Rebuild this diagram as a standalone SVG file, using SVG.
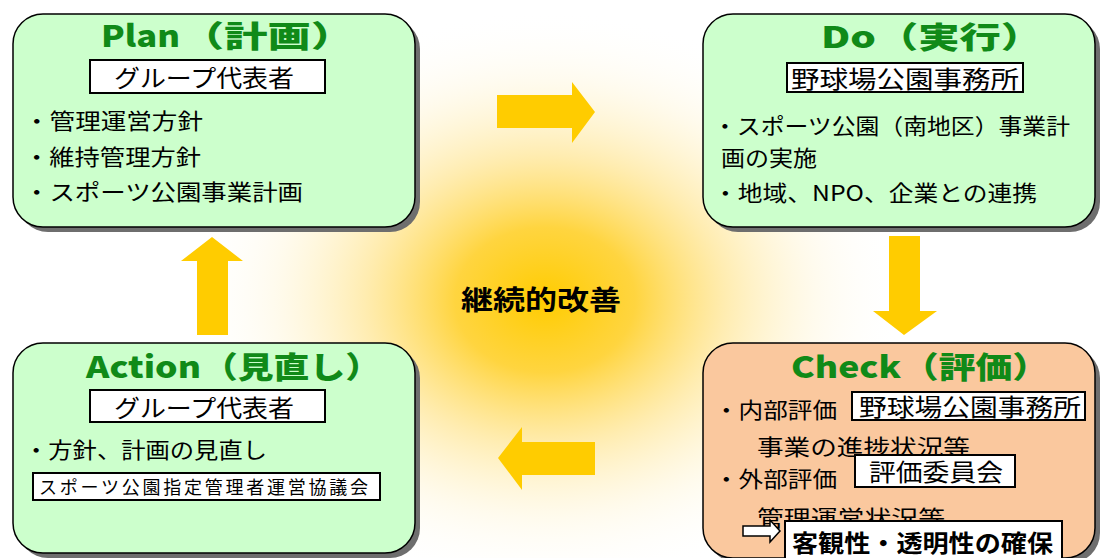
<svg xmlns="http://www.w3.org/2000/svg" width="1100" height="558" viewBox="0 0 1100 558">
<style>
.shadow{fill:#6e6e6e}
.green{fill:#CCFFCC;stroke:#000;stroke-width:1.5}
.peach{fill:#FAC89E;stroke:#000;stroke-width:1.5}
.title{font-family:"Noto Sans CJK JP","Noto Sans",sans-serif;font-weight:900;fill:#108A18;font-size:30px}
.body{font-family:"Noto Sans CJK JP",sans-serif;font-size:22px;fill:#000}
.lbl{fill:#fff;stroke:#000;stroke-width:2}
.lbltxt{font-family:"Noto Sans CJK JP",sans-serif;font-size:24px;fill:#000}
.arrow{fill:#FFCC00}
</style>
<defs>
<radialGradient id="glow" cx="0.5" cy="0.5" r="0.5">
<stop offset="0" stop-color="#FFCC00" stop-opacity="1"/>
<stop offset="0.25" stop-color="#FFD02A" stop-opacity="0.9"/>
<stop offset="0.5" stop-color="#FFDD70" stop-opacity="0.55"/>
<stop offset="0.75" stop-color="#FFEEB8" stop-opacity="0.25"/>
<stop offset="1" stop-color="#FFFFFF" stop-opacity="0"/>
</radialGradient>
</defs>
<rect width="1100" height="558" fill="#fff"/>
<ellipse id="glow-bg" cx="545" cy="300" rx="360" ry="290" fill="url(#glow)"/>

<g id="plan">
<rect class="shadow" x="18" y="19" width="402" height="213" rx="30"/>
<rect class="green" x="13" y="14" width="402" height="213" rx="30"/>
<text class="title" y="47"><tspan x="101" textLength="79" lengthAdjust="spacingAndGlyphs">Plan</tspan><tspan x="181" textLength="173" lengthAdjust="spacingAndGlyphs">（計画）</tspan></text>
<rect class="lbl" x="90" y="60" width="235" height="33"/>
<text class="lbltxt" x="114" y="87" textLength="180" lengthAdjust="spacingAndGlyphs">グループ代表者</text>
<text class="body" x="24" y="129" textLength="179" lengthAdjust="spacingAndGlyphs">・管理運営方針</text>
<text class="body" x="24" y="165" textLength="177" lengthAdjust="spacingAndGlyphs">・維持管理方針</text>
<text class="body" x="24" y="200" textLength="279" lengthAdjust="spacingAndGlyphs">・スポーツ公園事業計画</text>
</g>

<g id="do">
<rect class="shadow" x="708" y="19" width="392" height="213" rx="30"/>
<rect class="green" x="703" y="14" width="392" height="213" rx="30"/>
<text class="title" y="48"><tspan x="821" textLength="55" lengthAdjust="spacingAndGlyphs">Do</tspan><tspan x="877" textLength="165" lengthAdjust="spacingAndGlyphs">（実行）</tspan></text>
<rect class="lbl" x="787" y="63" width="236" height="29"/>
<text class="lbltxt" x="791" y="88" textLength="228" lengthAdjust="spacingAndGlyphs">野球場公園事務所</text>
<text class="body" x="713" y="134" textLength="357" lengthAdjust="spacingAndGlyphs">・スポーツ公園（南地区）事業計</text>
<text class="body" x="721" y="166" textLength="96" lengthAdjust="spacingAndGlyphs">画の実施</text>
<text class="body" x="713" y="201" textLength="324" lengthAdjust="spacingAndGlyphs">・地域、NPO、企業との連携</text>
</g>

<g id="action">
<rect class="shadow" x="18" y="348" width="402" height="210" rx="30"/>
<rect class="green" x="13" y="343" width="402" height="210" rx="30"/>
<text class="title" y="378"><tspan x="86" textLength="115" lengthAdjust="spacingAndGlyphs">Action</tspan><tspan x="202" textLength="179" lengthAdjust="spacingAndGlyphs">（見直し）</tspan></text>
<rect class="lbl" x="90" y="390" width="235" height="32"/>
<text class="lbltxt" x="114" y="417" textLength="180" lengthAdjust="spacingAndGlyphs">グループ代表者</text>
<text class="body" x="24" y="458" textLength="243" lengthAdjust="spacingAndGlyphs">・方針、計画の見直し</text>
<rect class="lbl" x="33" y="473" width="347" height="27"/>
<text x="39" y="494" font-family="'Noto Sans CJK JP',sans-serif" font-size="18" textLength="329" lengthAdjust="spacing">スポーツ公園指定管理者運営協議会</text>
</g>

<g id="check">
<rect class="shadow" x="708" y="348" width="392" height="215" rx="30"/>
<rect class="peach" x="703" y="343" width="392" height="215" rx="30"/>
<text class="title" y="378"><tspan x="791" textLength="110" lengthAdjust="spacingAndGlyphs">Check</tspan><tspan x="902" textLength="147" lengthAdjust="spacingAndGlyphs">（評価）</tspan></text>
<text class="body" x="714" y="418" textLength="123" lengthAdjust="spacingAndGlyphs">・内部評価</text>
<rect class="lbl" x="852" y="392" width="233" height="28"/>
<text class="lbltxt" x="859" y="416" textLength="222" lengthAdjust="spacingAndGlyphs">野球場公園事務所</text>
<text class="body" x="757" y="455" font-size="24" textLength="213" lengthAdjust="spacingAndGlyphs">事業の進捗状況等</text>
<rect class="lbl" x="855" y="455" width="160" height="32"/>
<text class="lbltxt" x="869" y="481" textLength="134" lengthAdjust="spacingAndGlyphs">評価委員会</text>
<text class="body" x="714" y="487" textLength="123" lengthAdjust="spacingAndGlyphs">・外部評価</text>
<text class="body" x="757" y="526" font-size="24" textLength="188" lengthAdjust="spacingAndGlyphs">管理運営状況等</text>
<polygon points="743,526 770,526 770,520 780,531 770,542 770,536 743,536" fill="#fff" stroke="#000" stroke-width="1.5"/>
<rect class="lbl" x="785" y="521" width="277" height="40"/>
<text class="lbltxt" x="792" y="552" font-size="25" font-weight="bold" textLength="261" lengthAdjust="spacingAndGlyphs">客観性・透明性の確保</text>
</g>

<g id="center-label">
<text x="461" y="310" font-family="'Noto Sans CJK JP',sans-serif" font-size="27" font-weight="bold" textLength="160" lengthAdjust="spacingAndGlyphs">継続的改善</text>
</g>

<g id="connectors">
<polygon class="arrow" points="497,95 572,95 572,82 595,112 572,143 572,128 497,128"/>
<polygon class="arrow" points="889,236 920,236 920,311 937,311 904,335 873,311 889,311"/>
<polygon class="arrow" points="595,442 522,442 522,427 498,458 522,490 522,475 595,475"/>
<polygon class="arrow" points="212,237 243,261 228,261 228,335 197,335 197,261 181,261"/>
</g>
</svg>
